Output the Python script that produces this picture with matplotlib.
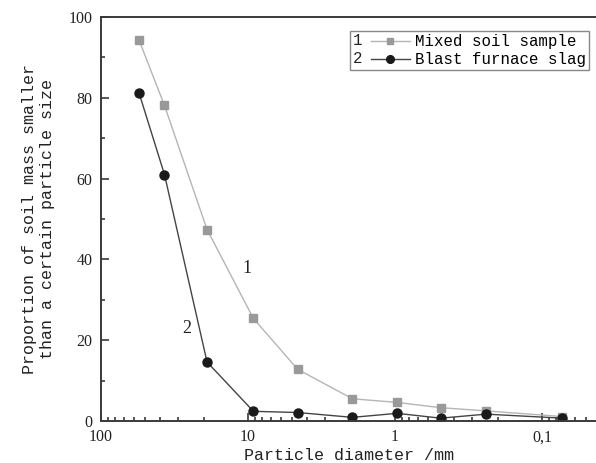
import matplotlib
matplotlib.use('Agg')
import matplotlib.pyplot as plt
import numpy as np
from matplotlib.legend_handler import HandlerLine2D
from matplotlib.text import Text
from matplotlib.ticker import MultipleLocator, FixedLocator, FuncFormatter, LogLocator, NullFormatter

# particle diameters (mm)
diameter = [55, 37, 19, 9.2, 4.6, 1.95, 0.97, 0.49, 0.24, 0.073]
mixed_soil = [94.2, 78.1, 47.4, 25.4, 12.8, 5.5, 4.6, 3.3, 2.5, 1.1]
slag = [81.1, 61.0, 14.6, 2.4, 2.1, 0.9, 1.9, 0.7, 1.7, 0.7]

x_major = [100, 10, 1, 0.1]
y_major = [0, 20, 40, 60, 80, 100]

mono = 'Liberation Mono'
serif = 'Liberation Serif'
spine_col = '#3a3a3a'


class NumberedHandler(HandlerLine2D):
    # draws "1 --marker--" : a number in front of the line handle
    def __init__(self, num, offset, **kw):
        super().__init__(**kw)
        self.num = num
        self.offset = offset

    def create_artists(self, legend, orig_handle, xdescent, ydescent,
                       width, height, fontsize, trans):
        arts = super().create_artists(legend, orig_handle, xdescent - self.offset,
                                      ydescent, width - self.offset, height,
                                      fontsize, trans)
        t = Text(-xdescent, (height - ydescent) / 2, self.num, fontsize=fontsize,
                 family=mono, va='center', ha='left', color='#222222',
                 transform=trans)
        return list(arts) + [t]


fig = plt.figure(figsize=(5.96, 4.63), dpi=100)
ax = fig.add_axes([101 / 596, 1 - 421 / 463, 1 - 101 / 596, (421 - 17) / 463])

l1, = ax.plot(diameter, mixed_soil, color='#b5b5b5', lw=1.0, marker='s',
              ms=5.5, mfc='#999999', mec='#999999')
l2, = ax.plot(diameter, slag, color='#444444', lw=1.0, marker='o',
              ms=6.5, mfc='#1a1a1a', mec='#1a1a1a')

ax.set_xscale('log')
ax.set_xlim(100, 0.043)
ax.set_ylim(0, 100)

ax.xaxis.set_major_locator(FixedLocator(x_major))
ax.xaxis.set_major_formatter(FuncFormatter(lambda v, p: ('%g' % v).replace('.', ',')))
ax.xaxis.set_minor_locator(LogLocator(base=10, subs=np.arange(2, 10)))
ax.xaxis.set_minor_formatter(NullFormatter())
ax.yaxis.set_major_locator(FixedLocator(y_major))
ax.yaxis.set_minor_locator(MultipleLocator(10))

ax.tick_params(which='both', direction='in', color=spine_col, width=1.2,
               labelsize=11.5, pad=6, top=False, right=False)
ax.tick_params(which='major', length=6)
ax.tick_params(which='minor', length=3)
for lab in ax.get_xticklabels() + ax.get_yticklabels():
    lab.set_family(serif)
    lab.set_color('#222222')

for side in ['left', 'bottom', 'top']:
    ax.spines[side].set_linewidth(1.4)
    ax.spines[side].set_color(spine_col)
ax.spines['right'].set_visible(False)

ax.set_xlabel('Particle diameter /mm', family=mono, fontsize=12,
              color='#222222', labelpad=2)
ax.set_ylabel('Proportion of soil mass smaller\nthan a certain particle size',
              family=mono, fontsize=12, color='#222222', labelpad=10)

ax.text(10.2, 37.7, '1', family=serif, fontsize=13, ha='center', va='center',
        color='#222222')
ax.text(26, 22.8, '2', family=serif, fontsize=13, ha='center', va='center',
        color='#222222')

leg = ax.legend([l1, l2], ['Mixed soil sample', 'Blast furnace slag'],
                handler_map={l1: NumberedHandler('1', 13, numpoints=1),
                             l2: NumberedHandler('2', 13, numpoints=1)},
                loc='upper left', bbox_to_anchor=(350 / 596, 1 - 31 / 463),
                bbox_transform=fig.transFigure,
                prop={'family': mono, 'size': 11.3}, handlelength=3.6,
                handletextpad=0.35, borderpad=0.2, labelspacing=0.2,
                borderaxespad=0, fancybox=False, framealpha=1, markerscale=0.85)
leg.get_frame().set_edgecolor('#888888')
leg.get_frame().set_linewidth(1.0)

fig.savefig('out.png', dpi=100)
